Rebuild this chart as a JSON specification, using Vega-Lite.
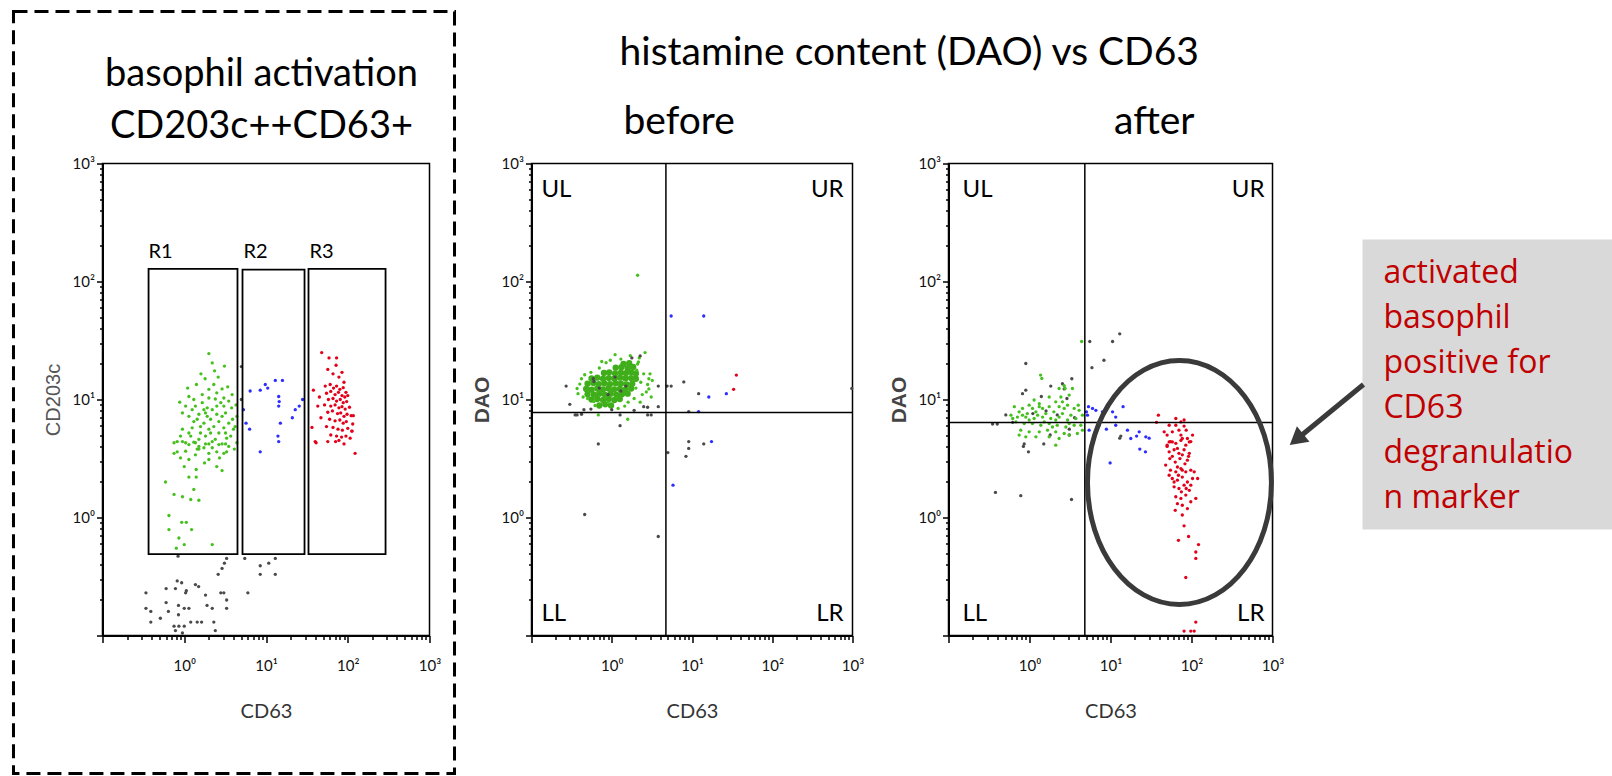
{
  "$schema": "https://vega.github.io/schema/vega-lite/v6.json",
  "background": "white",
  "padding": {"left": 10.5, "top": 8.5, "right": 0, "bottom": 2.5},
  "config": {"view": {"stroke": "#000", "strokeWidth": 1.5}},
  "datasets": {
    "p1": [
      {"cd63":0.34,"cd203c":0.23,"gate":"ungated"},{"cd63":0.34,"cd203c":0.17,"gate":"ungated"},{"cd63":0.39,"cd203c":0.16,"gate":"ungated"},{"cd63":0.39,"cd203c":0.13,"gate":"ungated"},{"cd63":0.51,"cd203c":0.14,"gate":"ungated"},{"cd63":0.6,"cd203c":0.25,"gate":"ungated"},{"cd63":0.6,"cd203c":0.19,"gate":"ungated"},{"cd63":0.64,"cd203c":0.16,"gate":"ungated"},{"cd63":0.78,"cd203c":0.25,"gate":"ungated"},{"cd63":0.82,"cd203c":0.29,"gate":"ungated"},{"cd63":0.85,"cd203c":0.18,"gate":"ungated"},{"cd63":0.85,"cd203c":0.15,"gate":"ungated"},{"cd63":0.93,"cd203c":0.28,"gate":"ungated"},{"cd63":1.0,"cd203c":0.17,"gate":"ungated"},{"cd63":1.04,"cd203c":0.23,"gate":"ungated"},{"cd63":1.06,"cd203c":0.24,"gate":"ungated"},{"cd63":1.14,"cd203c":0.17,"gate":"ungated"},{"cd63":0.75,"cd203c":0.12,"gate":"ungated"},{"cd63":0.86,"cd203c":0.12,"gate":"ungated"},{"cd63":1.0,"cd203c":0.12,"gate":"ungated"},{"cd63":1.2,"cd203c":0.13,"gate":"ungated"},{"cd63":1.37,"cd203c":0.27,"gate":"ungated"},{"cd63":1.44,"cd203c":0.13,"gate":"ungated"},{"cd63":1.63,"cd203c":0.13,"gate":"ungated"},{"cd63":1.82,"cd203c":0.22,"gate":"ungated"},{"cd63":1.9,"cd203c":0.18,"gate":"ungated"},{"cd63":2.2,"cd203c":0.17,"gate":"ungated"},{"cd63":2.3,"cd203c":0.13,"gate":"ungated"},{"cd63":2.4,"cd203c":0.11,"gate":"ungated"},{"cd63":2.8,"cd203c":0.23,"gate":"ungated"},{"cd63":3.05,"cd203c":0.23,"gate":"ungated"},{"cd63":3.3,"cd203c":0.2,"gate":"ungated"},{"cd63":3.3,"cd203c":0.17,"gate":"ungated"},{"cd63":2.6,"cd203c":0.33,"gate":"ungated"},{"cd63":2.9,"cd203c":0.37,"gate":"ungated"},{"cd63":3.1,"cd203c":0.41,"gate":"ungated"},{"cd63":3.3,"cd203c":0.45,"gate":"ungated"},{"cd63":5.5,"cd203c":0.45,"gate":"ungated"},{"cd63":6.0,"cd203c":0.23,"gate":"ungated"},{"cd63":8.5,"cd203c":0.39,"gate":"ungated"},{"cd63":8.5,"cd203c":0.33,"gate":"ungated"},{"cd63":10.8,"cd203c":0.41,"gate":"ungated"},{"cd63":13,"cd203c":0.45,"gate":"ungated"},{"cd63":13,"cd203c":0.33,"gate":"ungated"},{"cd63":1.5,"cd203c":0.26,"gate":"ungated"},{"cd63":0.78,"cd203c":0.11,"gate":"ungated"},{"cd63":0.95,"cd203c":0.105,"gate":"ungated"},{"cd63":0.84,"cd203c":0.47,"gate":"ungated"},{"cd63":5.0,"cd203c":19,"gate":"ungated"},{"cd63":5.0,"cd203c":10,"gate":"ungated"},
      {"cd63":2.0,"cd203c":24.5,"gate":"R1"},{"cd63":3.1,"cd203c":19.2,"gate":"R1"},{"cd63":2.2,"cd203c":20.4,"gate":"R1"},{"cd63":1.41,"cd203c":13.4,"gate":"R1"},{"cd63":2.3,"cd203c":13.4,"gate":"R1"},{"cd63":2.9,"cd203c":12.3,"gate":"R1"},{"cd63":3.85,"cd203c":11,"gate":"R1"},{"cd63":1.14,"cd203c":10.6,"gate":"R1"},{"cd63":2.0,"cd203c":10.3,"gate":"R1"},{"cd63":2.4,"cd203c":10.1,"gate":"R1"},{"cd63":3.05,"cd203c":10.3,"gate":"R1"},{"cd63":1.04,"cd203c":8.8,"gate":"R1"},{"cd63":1.37,"cd203c":8.8,"gate":"R1"},{"cd63":1.66,"cd203c":9.4,"gate":"R1"},{"cd63":1.91,"cd203c":8.5,"gate":"R1"},{"cd63":2.5,"cd203c":8.8,"gate":"R1"},{"cd63":3.05,"cd203c":8.8,"gate":"R1"},{"cd63":3.8,"cd203c":8.5,"gate":"R1"},{"cd63":1.14,"cd203c":7.2,"gate":"R1"},{"cd63":1.51,"cd203c":7.5,"gate":"R1"},{"cd63":1.82,"cd203c":7.7,"gate":"R1"},{"cd63":2.1,"cd203c":6.8,"gate":"R1"},{"cd63":2.9,"cd203c":7.2,"gate":"R1"},{"cd63":3.5,"cd203c":6.3,"gate":"R1"},{"cd63":4.2,"cd203c":5.9,"gate":"R1"},{"cd63":0.95,"cd203c":5.6,"gate":"R1"},{"cd63":1.25,"cd203c":5.75,"gate":"R1"},{"cd63":1.58,"cd203c":5.2,"gate":"R1"},{"cd63":2.0,"cd203c":5.6,"gate":"R1"},{"cd63":2.65,"cd203c":5.2,"gate":"R1"},{"cd63":3.3,"cd203c":4.7,"gate":"R1"},{"cd63":1.04,"cd203c":4.3,"gate":"R1"},{"cd63":1.37,"cd203c":4.3,"gate":"R1"},{"cd63":2.0,"cd203c":4.2,"gate":"R1"},{"cd63":2.9,"cd203c":4.2,"gate":"R1"},{"cd63":4.0,"cd203c":5.6,"gate":"R1"},{"cd63":0.82,"cd203c":4.4,"gate":"R1"},{"cd63":1.74,"cd203c":6.3,"gate":"R1"},{"cd63":2.3,"cd203c":5.9,"gate":"R1"},{"cd63":1.31,"cd203c":6.5,"gate":"R1"},{"cd63":1.51,"cd203c":4.6,"gate":"R1"},{"cd63":2.4,"cd203c":4.6,"gate":"R1"},{"cd63":3.05,"cd203c":5.75,"gate":"R1"},{"cd63":3.7,"cd203c":4.9,"gate":"R1"},{"cd63":1.82,"cd203c":4.9,"gate":"R1"},{"cd63":2.2,"cd203c":3.9,"gate":"R1"},{"cd63":1.2,"cd203c":4.9,"gate":"R1"},{"cd63":2.65,"cd203c":6.5,"gate":"R1"},{"cd63":3.2,"cd203c":7.7,"gate":"R1"},{"cd63":2.0,"cd203c":12.2,"gate":"R1"},{"cd63":1.66,"cd203c":11,"gate":"R1"},{"cd63":1.31,"cd203c":10,"gate":"R1"},{"cd63":2.5,"cd203c":11.4,"gate":"R1"},{"cd63":3.5,"cd203c":9.7,"gate":"R1"},{"cd63":0.95,"cd203c":7.7,"gate":"R1"},{"cd63":0.9,"cd203c":4.9,"gate":"R1"},{"cd63":1.51,"cd203c":3.8,"gate":"R1"},{"cd63":4.4,"cd203c":4.3,"gate":"R1"},{"cd63":4.4,"cd203c":7.2,"gate":"R1"},{"cd63":1.25,"cd203c":8.2,"gate":"R1"},{"cd63":1.44,"cd203c":6.8,"gate":"R1"},{"cd63":1.91,"cd203c":7.2,"gate":"R1"},{"cd63":2.2,"cd203c":8.2,"gate":"R1"},{"cd63":2.8,"cd203c":9.4,"gate":"R1"},{"cd63":1.58,"cd203c":5.9,"gate":"R1"},{"cd63":2.1,"cd203c":5.2,"gate":"R1"},{"cd63":3.2,"cd203c":5.2,"gate":"R1"},{"cd63":2.5,"cd203c":7.5,"gate":"R1"},{"cd63":1.14,"cd203c":5.2,"gate":"R1"},{"cd63":1.74,"cd203c":8.2,"gate":"R1"},{"cd63":0.75,"cd203c":4.3,"gate":"R1"},{"cd63":0.95,"cd203c":4.4,"gate":"R1"},{"cd63":1.14,"cd203c":4.15,"gate":"R1"},{"cd63":1.31,"cd203c":4.35,"gate":"R1"},{"cd63":1.51,"cd203c":4.0,"gate":"R1"},{"cd63":1.82,"cd203c":4.2,"gate":"R1"},{"cd63":2.2,"cd203c":4.4,"gate":"R1"},{"cd63":2.65,"cd203c":4.15,"gate":"R1"},{"cd63":3.2,"cd203c":4.2,"gate":"R1"},{"cd63":3.5,"cd203c":4.0,"gate":"R1"},{"cd63":0.82,"cd203c":3.6,"gate":"R1"},{"cd63":1.04,"cd203c":3.65,"gate":"R1"},{"cd63":1.44,"cd203c":3.8,"gate":"R1"},{"cd63":2.0,"cd203c":3.5,"gate":"R1"},{"cd63":2.5,"cd203c":3.6,"gate":"R1"},{"cd63":3.05,"cd203c":3.5,"gate":"R1"},{"cd63":1.74,"cd203c":3.9,"gate":"R1"},{"cd63":1.37,"cd203c":3.4,"gate":"R1"},{"cd63":0.75,"cd203c":3.5,"gate":"R1"},{"cd63":1.0,"cd203c":2.7,"gate":"R1"},{"cd63":1.77,"cd203c":2.9,"gate":"R1"},{"cd63":1.4,"cd203c":2.55,"gate":"R1"},{"cd63":2.5,"cd203c":2.7,"gate":"R1"},{"cd63":2.9,"cd203c":2.5,"gate":"R1"},{"cd63":1.14,"cd203c":2.2,"gate":"R1"},{"cd63":1.4,"cd203c":2.2,"gate":"R1"},{"cd63":1.31,"cd203c":1.73,"gate":"R1"},{"cd63":0.59,"cd203c":2.0,"gate":"R1"},{"cd63":0.75,"cd203c":1.57,"gate":"R1"},{"cd63":0.95,"cd203c":1.5,"gate":"R1"},{"cd63":1.2,"cd203c":1.42,"gate":"R1"},{"cd63":1.51,"cd203c":1.4,"gate":"R1"},{"cd63":0.65,"cd203c":1.04,"gate":"R1"},{"cd63":0.65,"cd203c":0.79,"gate":"R1"},{"cd63":0.93,"cd203c":0.91,"gate":"R1"},{"cd63":1.06,"cd203c":0.91,"gate":"R1"},{"cd63":1.23,"cd203c":0.79,"gate":"R1"},{"cd63":0.86,"cd203c":0.67,"gate":"R1"},{"cd63":1.0,"cd203c":0.59,"gate":"R1"},{"cd63":0.8,"cd203c":0.55,"gate":"R1"},{"cd63":2.2,"cd203c":0.59,"gate":"R1"},{"cd63":2.0,"cd203c":3.1,"gate":"R1"},{"cd63":1.14,"cd203c":3.1,"gate":"R1"},{"cd63":0.9,"cd203c":3.2,"gate":"R1"},{"cd63":3.9,"cd203c":6.8,"gate":"R1"},{"cd63":4.3,"cd203c":9.0,"gate":"R1"},{"cd63":3.4,"cd203c":12.8,"gate":"R1"},{"cd63":2.6,"cd203c":15.5,"gate":"R1"},{"cd63":1.8,"cd203c":15,"gate":"R1"},{"cd63":1.1,"cd203c":12.5,"gate":"R1"},{"cd63":0.88,"cd203c":9.5,"gate":"R1"},{"cd63":2.7,"cd203c":3.2,"gate":"R1"},{"cd63":3.3,"cd203c":3.6,"gate":"R1"},{"cd63":4.1,"cd203c":3.8,"gate":"R1"},{"cd63":1.6,"cd203c":16.5,"gate":"R1"},{"cd63":2.35,"cd203c":17.5,"gate":"R1"},
      {"cd63":6.4,"cd203c":11.8,"gate":"R2"},{"cd63":8.5,"cd203c":12,"gate":"R2"},{"cd63":9.8,"cd203c":13.4,"gate":"R2"},{"cd63":13,"cd203c":14.5,"gate":"R2"},{"cd63":15.9,"cd203c":14.5,"gate":"R2"},{"cd63":14.3,"cd203c":10.6,"gate":"R2"},{"cd63":14.3,"cd203c":8.8,"gate":"R2"},{"cd63":15,"cd203c":6.3,"gate":"R2"},{"cd63":14,"cd203c":4.9,"gate":"R2"},{"cd63":5.7,"cd203c":6.3,"gate":"R2"},{"cd63":6.3,"cd203c":5.6,"gate":"R2"},{"cd63":22.8,"cd203c":8.2,"gate":"R2"},{"cd63":25.5,"cd203c":8.8,"gate":"R2"},{"cd63":28,"cd203c":10,"gate":"R2"},{"cd63":21,"cd203c":7.0,"gate":"R2"},{"cd63":5.3,"cd203c":8.2,"gate":"R2"},{"cd63":8.5,"cd203c":3.6,"gate":"R2"},{"cd63":14.3,"cd203c":4.4,"gate":"R2"},{"cd63":10.5,"cd203c":12.5,"gate":"R2"},{"cd63":14.5,"cd203c":9.6,"gate":"R2"},
      {"cd63":48,"cd203c":25,"gate":"R3"},{"cd63":59,"cd203c":22.5,"gate":"R3"},{"cd63":73,"cd203c":22.5,"gate":"R3"},{"cd63":72,"cd203c":19.5,"gate":"R3"},{"cd63":57,"cd203c":18,"gate":"R3"},{"cd63":66,"cd203c":16.5,"gate":"R3"},{"cd63":78,"cd203c":15.5,"gate":"R3"},{"cd63":85,"cd203c":17,"gate":"R3"},{"cd63":90,"cd203c":14,"gate":"R3"},{"cd63":53,"cd203c":13,"gate":"R3"},{"cd63":61,"cd203c":13.4,"gate":"R3"},{"cd63":67,"cd203c":12.5,"gate":"R3"},{"cd63":73,"cd203c":13,"gate":"R3"},{"cd63":80,"cd203c":12.2,"gate":"R3"},{"cd63":88,"cd203c":12.6,"gate":"R3"},{"cd63":95,"cd203c":11.5,"gate":"R3"},{"cd63":55,"cd203c":11.3,"gate":"R3"},{"cd63":62,"cd203c":11.7,"gate":"R3"},{"cd63":70,"cd203c":11,"gate":"R3"},{"cd63":77,"cd203c":11.5,"gate":"R3"},{"cd63":85,"cd203c":10.8,"gate":"R3"},{"cd63":92,"cd203c":10.5,"gate":"R3"},{"cd63":100,"cd203c":10.8,"gate":"R3"},{"cd63":58,"cd203c":10,"gate":"R3"},{"cd63":66,"cd203c":10.2,"gate":"R3"},{"cd63":73,"cd203c":9.7,"gate":"R3"},{"cd63":81,"cd203c":10,"gate":"R3"},{"cd63":88,"cd203c":9.4,"gate":"R3"},{"cd63":97,"cd203c":9.6,"gate":"R3"},{"cd63":52,"cd203c":9,"gate":"R3"},{"cd63":62,"cd203c":8.8,"gate":"R3"},{"cd63":70,"cd203c":9,"gate":"R3"},{"cd63":78,"cd203c":8.5,"gate":"R3"},{"cd63":85,"cd203c":8.7,"gate":"R3"},{"cd63":93,"cd203c":8.3,"gate":"R3"},{"cd63":105,"cd203c":8.6,"gate":"R3"},{"cd63":57,"cd203c":7.8,"gate":"R3"},{"cd63":65,"cd203c":8,"gate":"R3"},{"cd63":75,"cd203c":7.6,"gate":"R3"},{"cd63":82,"cd203c":7.7,"gate":"R3"},{"cd63":90,"cd203c":7.2,"gate":"R3"},{"cd63":98,"cd203c":7.5,"gate":"R3"},{"cd63":110,"cd203c":7.3,"gate":"R3"},{"cd63":60,"cd203c":6.8,"gate":"R3"},{"cd63":70,"cd203c":6.6,"gate":"R3"},{"cd63":80,"cd203c":6.7,"gate":"R3"},{"cd63":88,"cd203c":6.3,"gate":"R3"},{"cd63":96,"cd203c":6.5,"gate":"R3"},{"cd63":115,"cd203c":6.2,"gate":"R3"},{"cd63":55,"cd203c":5.9,"gate":"R3"},{"cd63":66,"cd203c":5.8,"gate":"R3"},{"cd63":76,"cd203c":5.6,"gate":"R3"},{"cd63":86,"cd203c":5.5,"gate":"R3"},{"cd63":100,"cd203c":5.7,"gate":"R3"},{"cd63":113,"cd203c":5.4,"gate":"R3"},{"cd63":62,"cd203c":5.0,"gate":"R3"},{"cd63":73,"cd203c":4.9,"gate":"R3"},{"cd63":84,"cd203c":4.8,"gate":"R3"},{"cd63":95,"cd203c":4.9,"gate":"R3"},{"cd63":107,"cd203c":4.7,"gate":"R3"},{"cd63":90,"cd203c":4.2,"gate":"R3"},{"cd63":78,"cd203c":4.5,"gate":"R3"},{"cd63":38,"cd203c":12,"gate":"R3"},{"cd63":43,"cd203c":8.8,"gate":"R3"},{"cd63":36.5,"cd203c":5.8,"gate":"R3"},{"cd63":41,"cd203c":4.3,"gate":"R3"},{"cd63":40,"cd203c":4.4,"gate":"R3"},{"cd63":57,"cd203c":4.4,"gate":"R3"},{"cd63":71,"cd203c":4.4,"gate":"R3"},{"cd63":123,"cd203c":3.5,"gate":"R3"},{"cd63":117,"cd203c":7.3,"gate":"R3"},{"cd63":112,"cd203c":5.4,"gate":"R3"},{"cd63":45,"cd203c":10.5,"gate":"R3"},{"cd63":47,"cd203c":7,"gate":"R3"}
    ],
    "p2core": [
      {"cd63":1.4,"dao":20},{"cd63":1.65,"dao":20.3},
      {"cd63":1.12,"dao":18.6},{"cd63":1.32,"dao":18.8},{"cd63":1.58,"dao":18.4},{"cd63":1.85,"dao":18.9},
      {"cd63":0.8,"dao":16.8},{"cd63":0.93,"dao":17},{"cd63":1.1,"dao":16.6},{"cd63":1.3,"dao":16.9},{"cd63":1.5,"dao":16.7},{"cd63":1.75,"dao":17},{"cd63":2.0,"dao":16.6},
      {"cd63":0.56,"dao":15.1},{"cd63":0.66,"dao":15.3},{"cd63":0.78,"dao":15},{"cd63":0.92,"dao":15.2},{"cd63":1.08,"dao":15},{"cd63":1.27,"dao":15.3},{"cd63":1.48,"dao":15.1},{"cd63":1.74,"dao":15.2},{"cd63":2.0,"dao":15},
      {"cd63":0.5,"dao":13.6},{"cd63":0.59,"dao":13.8},{"cd63":0.69,"dao":13.5},{"cd63":0.81,"dao":13.7},{"cd63":0.95,"dao":13.5},{"cd63":1.12,"dao":13.7},{"cd63":1.3,"dao":13.6},{"cd63":1.53,"dao":13.4},{"cd63":1.8,"dao":13.6},
      {"cd63":0.48,"dao":12.3},{"cd63":0.56,"dao":12.1},{"cd63":0.66,"dao":12.4},{"cd63":0.78,"dao":12.2},{"cd63":0.91,"dao":12.4},{"cd63":1.07,"dao":12.2},{"cd63":1.26,"dao":12.3},{"cd63":1.48,"dao":12.1},{"cd63":1.75,"dao":12.4},
      {"cd63":0.5,"dao":11.1},{"cd63":0.6,"dao":11},{"cd63":0.7,"dao":11.2},{"cd63":0.82,"dao":11},{"cd63":0.97,"dao":11.2},{"cd63":1.14,"dao":11},{"cd63":1.34,"dao":11.1},{"cd63":1.58,"dao":11.2},
      {"cd63":0.56,"dao":10},{"cd63":0.66,"dao":10.1},{"cd63":0.78,"dao":9.9},{"cd63":0.92,"dao":10.1},{"cd63":1.08,"dao":9.9},{"cd63":1.26,"dao":10.1},
      {"cd63":0.7,"dao":8.9},{"cd63":0.83,"dao":9.1},{"cd63":0.98,"dao":8.9}
    ],
    "p2": [
      {"cd63":0.42,"dao":15,"gate":"R1"},{"cd63":0.37,"dao":12.4,"gate":"R1"},{"cd63":0.96,"dao":21.5,"gate":"R1"},{"cd63":2.6,"dao":25,"gate":"R1"},{"cd63":2.15,"dao":20.8,"gate":"R1"},{"cd63":2.05,"dao":17.7,"gate":"R1"},{"cd63":2.9,"dao":15,"gate":"R1"},{"cd63":3.1,"dao":10.5,"gate":"R1"},{"cd63":2.7,"dao":11.6,"gate":"R1"},{"cd63":2.26,"dao":9.5,"gate":"R1"},{"cd63":1.6,"dao":9.5,"gate":"R1"},{"cd63":1.2,"dao":8.4,"gate":"R1"},{"cd63":0.68,"dao":7.4,"gate":"R1"},{"cd63":1.58,"dao":6.8,"gate":"R1"},{"cd63":2.1,"dao":20,"gate":"R1"},{"cd63":2.5,"dao":16.5,"gate":"R1"},{"cd63":0.44,"dao":10.5,"gate":"R1"},{"cd63":0.5,"dao":10.2,"gate":"R1"},{"cd63":0.62,"dao":8.9,"gate":"R1"},{"cd63":2.1,"dao":113,"gate":"R1"},{"cd63":0.55,"dao":17,"gate":"R1"},{"cd63":0.7,"dao":18.5,"gate":"R1"},{"cd63":0.85,"dao":20.5,"gate":"R1"},{"cd63":1.3,"dao":22,"gate":"R1"},{"cd63":1.7,"dao":23.5,"gate":"R1"},{"cd63":2.3,"dao":14,"gate":"R1"},{"cd63":2.0,"dao":12.5,"gate":"R1"},{"cd63":2.4,"dao":11,"gate":"R1"},{"cd63":0.4,"dao":13.5,"gate":"R1"},{"cd63":0.46,"dao":16.2,"gate":"R1"},{"cd63":0.9,"dao":9.4,"gate":"R1"},{"cd63":1.9,"dao":10.2,"gate":"R1"},{"cd63":2.8,"dao":13.4,"gate":"R1"},{"cd63":3.2,"dao":14.5,"gate":"R1"},{"cd63":0.75,"dao":21,"gate":"R1"},{"cd63":1.1,"dao":24,"gate":"R1"},{"cd63":0.38,"dao":11.2,"gate":"R1"},{"cd63":2.9,"dao":12.3,"gate":"R1"},{"cd63":1.45,"dao":8.8,"gate":"R1"},{"cd63":3.0,"dao":16.5,"gate":"R1"},{"cd63":0.6,"dao":9.6,"gate":"R1"},{"cd63":2.2,"dao":22.5,"gate":"R1"},
      {"cd63":0.27,"dao":13,"gate":"ungated"},{"cd63":0.3,"dao":9.1,"gate":"ungated"},{"cd63":0.35,"dao":7.4,"gate":"ungated"},{"cd63":0.37,"dao":7.4,"gate":"ungated"},{"cd63":0.42,"dao":7.5,"gate":"ungated"},{"cd63":0.59,"dao":15,"gate":"ungated"},{"cd63":1.78,"dao":22.5,"gate":"ungated"},{"cd63":2.26,"dao":23.4,"gate":"ungated"},{"cd63":3.8,"dao":13,"gate":"ungated"},{"cd63":4.9,"dao":13,"gate":"ungated"},{"cd63":5.5,"dao":13,"gate":"ungated"},{"cd63":7.9,"dao":14.1,"gate":"ungated"},{"cd63":12.1,"dao":11.2,"gate":"ungated"},{"cd63":9.1,"dao":7.9,"gate":"ungated"},{"cd63":3.8,"dao":8.7,"gate":"ungated"},{"cd63":2.5,"dao":8.7,"gate":"ungated"},{"cd63":2.8,"dao":8.6,"gate":"ungated"},{"cd63":1.27,"dao":7.4,"gate":"ungated"},{"cd63":1.27,"dao":6.0,"gate":"ungated"},{"cd63":0.68,"dao":4.2,"gate":"ungated"},{"cd63":2.8,"dao":7.4,"gate":"ungated"},{"cd63":3.1,"dao":7.4,"gate":"ungated"},{"cd63":9.1,"dao":4.4,"gate":"ungated"},{"cd63":9.1,"dao":3.85,"gate":"ungated"},{"cd63":8.4,"dao":3.3,"gate":"ungated"},{"cd63":14,"dao":4.2,"gate":"ungated"},{"cd63":5.0,"dao":3.55,"gate":"ungated"},{"cd63":0.46,"dao":1.06,"gate":"ungated"},{"cd63":3.8,"dao":0.69,"gate":"ungated"},{"cd63":980,"dao":12.4,"gate":"ungated"},{"cd63":0.7,"dao":12.5,"gate":"ungated"},{"cd63":1.1,"dao":15.5,"gate":"ungated"},{"cd63":1.5,"dao":13,"gate":"ungated"},{"cd63":0.9,"dao":11,"gate":"ungated"},{"cd63":1.3,"dao":11.8,"gate":"ungated"},{"cd63":0.6,"dao":14.2,"gate":"ungated"},{"cd63":0.45,"dao":8.2,"gate":"ungated"},{"cd63":1.9,"dao":8.1,"gate":"ungated"},{"cd63":0.55,"dao":8.3,"gate":"ungated"},{"cd63":1.0,"dao":8.2,"gate":"ungated"},
      {"cd63":5.5,"dao":51,"gate":"R2"},{"cd63":14,"dao":51,"gate":"R2"},{"cd63":16.2,"dao":10.5,"gate":"R2"},{"cd63":26.8,"dao":11.2,"gate":"R2"},{"cd63":12.1,"dao":7.9,"gate":"R2"},{"cd63":17.5,"dao":4.4,"gate":"R2"},{"cd63":5.8,"dao":1.88,"gate":"R2"},
      {"cd63":35.7,"dao":16.1,"gate":"R3"},{"cd63":33,"dao":12.2,"gate":"R3"}
    ],
    "p3": [
      {"cd63":0.9,"dao":20.2,"gate":"ungated"},{"cd63":0.9,"dao":12,"gate":"ungated"},{"cd63":1.83,"dao":13,"gate":"ungated"},{"cd63":2.68,"dao":12.3,"gate":"ungated"},{"cd63":3.33,"dao":15,"gate":"ungated"},{"cd63":5.55,"dao":31,"gate":"ungated"},{"cd63":10.6,"dao":31,"gate":"ungated"},{"cd63":13,"dao":36,"gate":"ungated"},{"cd63":8.3,"dao":21.5,"gate":"ungated"},{"cd63":5.9,"dao":18.6,"gate":"ungated"},{"cd63":0.51,"dao":7.4,"gate":"ungated"},{"cd63":0.35,"dao":6.2,"gate":"ungated"},{"cd63":0.4,"dao":6.2,"gate":"ungated"},{"cd63":3.1,"dao":5.0,"gate":"ungated"},{"cd63":13.4,"dao":4.9,"gate":"ungated"},{"cd63":0.86,"dao":4.2,"gate":"ungated"},{"cd63":1.5,"dao":4.2,"gate":"ungated"},{"cd63":1.8,"dao":5.0,"gate":"ungated"},{"cd63":3.1,"dao":5.6,"gate":"ungated"},{"cd63":2.55,"dao":13.6,"gate":"ungated"},{"cd63":0.82,"dao":11.2,"gate":"ungated"},{"cd63":0.84,"dao":4.0,"gate":"ungated"},{"cd63":0.97,"dao":3.6,"gate":"ungated"},{"cd63":0.38,"dao":1.63,"gate":"ungated"},{"cd63":0.78,"dao":1.53,"gate":"ungated"},{"cd63":3.3,"dao":1.42,"gate":"ungated"},{"cd63":13,"dao":4.7,"gate":"ungated"},{"cd63":0.62,"dao":6.4,"gate":"ungated"},{"cd63":1.6,"dao":8.0,"gate":"ungated"},{"cd63":2.2,"dao":7.4,"gate":"ungated"},{"cd63":1.1,"dao":7.6,"gate":"ungated"},{"cd63":3.6,"dao":7.0,"gate":"ungated"},{"cd63":1.4,"dao":10.6,"gate":"ungated"},{"cd63":2.9,"dao":10.2,"gate":"ungated"},
      {"cd63":1.37,"dao":16.1,"gate":"R1"},{"cd63":1.42,"dao":15.1,"gate":"R1"},{"cd63":2.68,"dao":13.1,"gate":"R1"},{"cd63":2.75,"dao":12.4,"gate":"R1"},{"cd63":3.39,"dao":12.4,"gate":"R1"},{"cd63":3.09,"dao":10.9,"gate":"R1"},{"cd63":1.75,"dao":10.5,"gate":"R1"},{"cd63":2.11,"dao":9.55,"gate":"R1"},{"cd63":2.55,"dao":9.55,"gate":"R1"},{"cd63":1.32,"dao":9.2,"gate":"R1"},{"cd63":0.99,"dao":8.95,"gate":"R1"},{"cd63":0.65,"dao":8.7,"gate":"R1"},{"cd63":0.82,"dao":8.4,"gate":"R1"},{"cd63":1.09,"dao":8.4,"gate":"R1"},{"cd63":1.45,"dao":8.4,"gate":"R1"},{"cd63":1.75,"dao":8.7,"gate":"R1"},{"cd63":2.32,"dao":8.7,"gate":"R1"},{"cd63":2.95,"dao":8.95,"gate":"R1"},{"cd63":3.56,"dao":8.4,"gate":"R1"},{"cd63":4.1,"dao":8.1,"gate":"R1"},{"cd63":0.745,"dao":7.86,"gate":"R1"},{"cd63":0.94,"dao":7.6,"gate":"R1"},{"cd63":1.2,"dao":7.86,"gate":"R1"},{"cd63":1.59,"dao":7.6,"gate":"R1"},{"cd63":2.0,"dao":7.86,"gate":"R1"},{"cd63":2.55,"dao":7.6,"gate":"R1"},{"cd63":3.24,"dao":7.36,"gate":"R1"},{"cd63":0.59,"dao":7.36,"gate":"R1"},{"cd63":0.71,"dao":7.1,"gate":"R1"},{"cd63":0.9,"dao":7.1,"gate":"R1"},{"cd63":1.14,"dao":6.9,"gate":"R1"},{"cd63":1.45,"dao":7.1,"gate":"R1"},{"cd63":1.83,"dao":6.9,"gate":"R1"},{"cd63":2.32,"dao":7.1,"gate":"R1"},{"cd63":2.95,"dao":6.7,"gate":"R1"},{"cd63":3.73,"dao":6.9,"gate":"R1"},{"cd63":4.5,"dao":7.36,"gate":"R1"},{"cd63":4.3,"dao":6.05,"gate":"R1"},{"cd63":0.68,"dao":6.46,"gate":"R1"},{"cd63":0.86,"dao":6.25,"gate":"R1"},{"cd63":1.09,"dao":6.25,"gate":"R1"},{"cd63":1.38,"dao":6.05,"gate":"R1"},{"cd63":1.75,"dao":6.25,"gate":"R1"},{"cd63":2.2,"dao":6.05,"gate":"R1"},{"cd63":2.81,"dao":5.85,"gate":"R1"},{"cd63":3.56,"dao":6.05,"gate":"R1"},{"cd63":0.78,"dao":5.5,"gate":"R1"},{"cd63":0.99,"dao":5.32,"gate":"R1"},{"cd63":1.32,"dao":5.32,"gate":"R1"},{"cd63":1.67,"dao":5.5,"gate":"R1"},{"cd63":2.11,"dao":5.32,"gate":"R1"},{"cd63":2.68,"dao":5.15,"gate":"R1"},{"cd63":0.745,"dao":4.99,"gate":"R1"},{"cd63":0.9,"dao":4.83,"gate":"R1"},{"cd63":1.2,"dao":4.83,"gate":"R1"},{"cd63":1.75,"dao":4.83,"gate":"R1"},{"cd63":2.32,"dao":4.67,"gate":"R1"},{"cd63":3.09,"dao":4.99,"gate":"R1"},{"cd63":3.9,"dao":5.15,"gate":"R1"},{"cd63":4.5,"dao":5.5,"gate":"R1"},{"cd63":2.11,"dao":4.1,"gate":"R1"},{"cd63":4.4,"dao":31,"gate":"R1"},{"cd63":1.26,"dao":7.36,"gate":"R1"},{"cd63":2.11,"dao":6.7,"gate":"R1"},{"cd63":2.68,"dao":8.4,"gate":"R1"},{"cd63":1.52,"dao":6.46,"gate":"R1"},{"cd63":1.92,"dao":5.85,"gate":"R1"},{"cd63":0.99,"dao":6.7,"gate":"R1"},{"cd63":3.09,"dao":6.25,"gate":"R1"},{"cd63":1.32,"dao":8.7,"gate":"R1"},{"cd63":2.44,"dao":10.5,"gate":"R1"},{"cd63":1.14,"dao":9.9,"gate":"R1"},{"cd63":0.62,"dao":6.9,"gate":"R1"},{"cd63":0.82,"dao":7.36,"gate":"R1"},{"cd63":4.0,"dao":8.95,"gate":"R1"},{"cd63":2.32,"dao":12.4,"gate":"R1"},
      {"cd63":5.35,"dao":8.7,"gate":"R2"},{"cd63":6.6,"dao":8.1,"gate":"R2"},{"cd63":7.95,"dao":7.86,"gate":"R2"},{"cd63":10.6,"dao":7.86,"gate":"R2"},{"cd63":14.3,"dao":8.7,"gate":"R2"},{"cd63":5.2,"dao":7.36,"gate":"R2"},{"cd63":7.25,"dao":6.05,"gate":"R2"},{"cd63":8.9,"dao":5.6,"gate":"R2"},{"cd63":11.6,"dao":6.05,"gate":"R2"},{"cd63":16.2,"dao":5.5,"gate":"R2"},{"cd63":22.6,"dao":5.32,"gate":"R2"},{"cd63":27.3,"dao":4.83,"gate":"R2"},{"cd63":21,"dao":4.9,"gate":"R2"},{"cd63":17.8,"dao":4.67,"gate":"R2"},{"cd63":5.45,"dao":5.5,"gate":"R2"},{"cd63":9.9,"dao":2.9,"gate":"R2"},{"cd63":23,"dao":3.8,"gate":"R2"},{"cd63":27,"dao":3.6,"gate":"R2"},{"cd63":30,"dao":4.7,"gate":"R2"},{"cd63":6.0,"dao":8.4,"gate":"R2"},{"cd63":11.6,"dao":7.1,"gate":"R2"},{"cd63":5.05,"dao":7.86,"gate":"R2"},
      {"cd63":39,"dao":7.36,"gate":"R3"},{"cd63":37,"dao":6.4,"gate":"R3"},{"cd63":64,"dao":6.05,"gate":"R3"},{"cd63":81,"dao":5.95,"gate":"R3"},{"cd63":58,"dao":5.32,"gate":"R3"},{"cd63":50,"dao":4.99,"gate":"R3"},{"cd63":74,"dao":4.99,"gate":"R3"},{"cd63":89,"dao":4.67,"gate":"R3"},{"cd63":53,"dao":4.37,"gate":"R3"},{"cd63":46,"dao":5.32,"gate":"R3"},{"cd63":70,"dao":5.5,"gate":"R3"},{"cd63":81,"dao":6.7,"gate":"R3"},{"cd63":64,"dao":6.9,"gate":"R3"},{"cd63":77,"dao":4.67,"gate":"R3"},{"cd63":58,"dao":4.37,"gate":"R3"},{"cd63":94,"dao":4.37,"gate":"R3"},{"cd63":50,"dao":4.0,"gate":"R3"},{"cd63":103,"dao":4.99,"gate":"R3"},{"cd63":53,"dao":6.05,"gate":"R3"},{"cd63":74,"dao":6.46,"gate":"R3"},{"cd63":86,"dao":5.5,"gate":"R3"},{"cd63":50,"dao":4.1,"gate":"R3"},{"cd63":55,"dao":4.4,"gate":"R3"},{"cd63":64,"dao":4.25,"gate":"R3"},{"cd63":74,"dao":4.5,"gate":"R3"},{"cd63":85,"dao":4.1,"gate":"R3"},{"cd63":98,"dao":4.4,"gate":"R3"},{"cd63":53,"dao":3.6,"gate":"R3"},{"cd63":61,"dao":3.75,"gate":"R3"},{"cd63":70,"dao":3.5,"gate":"R3"},{"cd63":81,"dao":3.75,"gate":"R3"},{"cd63":94,"dao":3.5,"gate":"R3"},{"cd63":48,"dao":2.78,"gate":"R3"},{"cd63":54,"dao":3.16,"gate":"R3"},{"cd63":63,"dao":2.95,"gate":"R3"},{"cd63":72,"dao":3.16,"gate":"R3"},{"cd63":83,"dao":2.85,"gate":"R3"},{"cd63":92,"dao":3.3,"gate":"R3"},{"cd63":55,"dao":2.52,"gate":"R3"},{"cd63":64,"dao":2.44,"gate":"R3"},{"cd63":74,"dao":2.6,"gate":"R3"},{"cd63":85,"dao":2.44,"gate":"R3"},{"cd63":98,"dao":2.52,"gate":"R3"},{"cd63":58,"dao":2.14,"gate":"R3"},{"cd63":67,"dao":2.07,"gate":"R3"},{"cd63":77,"dao":2.2,"gate":"R3"},{"cd63":89,"dao":2.0,"gate":"R3"},{"cd63":103,"dao":2.14,"gate":"R3"},{"cd63":119,"dao":2.14,"gate":"R3"},{"cd63":61,"dao":1.82,"gate":"R3"},{"cd63":70,"dao":1.76,"gate":"R3"},{"cd63":81,"dao":1.88,"gate":"R3"},{"cd63":94,"dao":1.7,"gate":"R3"},{"cd63":113,"dao":1.45,"gate":"R3"},{"cd63":64,"dao":1.5,"gate":"R3"},{"cd63":74,"dao":1.45,"gate":"R3"},{"cd63":85,"dao":1.55,"gate":"R3"},{"cd63":98,"dao":1.36,"gate":"R3"},{"cd63":63,"dao":1.15,"gate":"R3"},{"cd63":77,"dao":1.27,"gate":"R3"},{"cd63":89,"dao":1.19,"gate":"R3"},{"cd63":77,"dao":1.05,"gate":"R3"},{"cd63":81,"dao":0.85,"gate":"R3"},{"cd63":69,"dao":0.64,"gate":"R3"},{"cd63":92,"dao":0.69,"gate":"R3"},{"cd63":122,"dao":0.59,"gate":"R3"},{"cd63":113,"dao":0.51,"gate":"R3"},{"cd63":113,"dao":0.45,"gate":"R3"},{"cd63":85,"dao":0.31,"gate":"R3"},{"cd63":113,"dao":0.13,"gate":"R3"},{"cd63":81,"dao":0.109,"gate":"R3"},{"cd63":98,"dao":0.109,"gate":"R3"},{"cd63":108,"dao":0.109,"gate":"R3"},{"cd63":67,"dao":3.85,"gate":"R3"},{"cd63":77,"dao":3.4,"gate":"R3"},{"cd63":58,"dao":3.3,"gate":"R3"},{"cd63":89,"dao":3.06,"gate":"R3"},{"cd63":67,"dao":2.68,"gate":"R3"},{"cd63":77,"dao":2.52,"gate":"R3"},{"cd63":69,"dao":2.28,"gate":"R3"},{"cd63":61,"dao":2.0,"gate":"R3"},{"cd63":75,"dao":1.65,"gate":"R3"},{"cd63":86,"dao":1.76,"gate":"R3"},{"cd63":67,"dao":1.31,"gate":"R3"},{"cd63":53,"dao":2.28,"gate":"R3"},{"cd63":98,"dao":1.88,"gate":"R3"},{"cd63":108,"dao":2.44,"gate":"R3"}
    ]
  },
  "bounds": "flush",
  "spacing": 102,
  "hconcat": [
    {
      "width": 327,
      "height": 472,
      "encoding": {
        "x": {"field": "cd63", "type": "quantitative", "title": "CD63",
          "scale": {"type": "log", "domain": [0.1, 1000]},
          "axis": {"values": [0.1,0.2,0.3,0.4,0.5,0.6,0.7,0.8,0.9,1,2,3,4,5,6,7,8,9,10,20,30,40,50,60,70,80,90,100,200,300,400,500,600,700,800,900,1000],
            "labelExpr": "datum.value == 1 ? '10⁰' : datum.value == 10 ? '10¹' : datum.value == 100 ? '10²' : datum.value == 1000 ? '10³' : ''",
            "tickSize": {"condition": {"test": "datum.value == 0.1 || datum.value == 1 || datum.value == 10 || datum.value == 100 || datum.value == 1000", "value": 7}, "value": 4},
            "grid": false, "domainColor": "#000", "domainWidth": 2, "tickColor": "#000", "tickWidth": 1.5,
            "labelFont": "Lato", "labelFontSize": 15, "labelColor": "#111", "labelPadding": 16,
            "labelOverlap": false, "labelFlush": false, "labelBound": false,
            "titleFont": "Lato", "titleFontSize": 20, "titleFontWeight": "normal", "titleColor": "#333", "titlePadding": 28}},
        "y": {"field": "cd203c", "type": "quantitative", "title": "CD203c",
          "scale": {"type": "log", "domain": [0.1, 1000]},
          "axis": {"values": [0.1,0.2,0.3,0.4,0.5,0.6,0.7,0.8,0.9,1,2,3,4,5,6,7,8,9,10,20,30,40,50,60,70,80,90,100,200,300,400,500,600,700,800,900,1000],
            "labelExpr": "datum.value == 1 ? '10⁰' : datum.value == 10 ? '10¹' : datum.value == 100 ? '10²' : datum.value == 1000 ? '10³' : ''",
            "tickSize": {"condition": {"test": "datum.value == 0.1 || datum.value == 1 || datum.value == 10 || datum.value == 100 || datum.value == 1000", "value": 6}, "value": 3},
            "grid": false, "domainColor": "#000", "domainWidth": 2, "tickColor": "#000", "tickWidth": 1.5,
            "labelFont": "Lato", "labelFontSize": 15, "labelColor": "#111", "labelPadding": 2,
            "labelOverlap": false, "labelFlush": false, "labelBound": false,
            "titleFont": "Liberation Sans", "titleFontSize": 20, "titleFontWeight": "normal", "titleColor": "#555", "titlePadding": 9}}
      },
      "layer": [
        {"data": {"name": "p1"}, "mark": {"type": "circle", "size": 11, "opacity": 1},
          "encoding": {"color": {"field": "gate", "type": "nominal", "legend": null,
            "scale": {"domain": ["R1", "R2", "R3", "ungated"], "range": ["#46c01e", "#2d2dff", "#e2001a", "#4a4a4a"]}}}},
        {"data": {"values": [
            {"gate": "R1", "cd63": 0.366, "cd63_end": 4.48, "cd203c": 0.49, "cd203c_end": 128},
            {"gate": "R2", "cd63": 5.16, "cd63_end": 29.6, "cd203c": 0.49, "cd203c_end": 126},
            {"gate": "R3", "cd63": 33.1, "cd63_end": 290, "cd203c": 0.49, "cd203c_end": 128}]},
          "mark": {"type": "rect", "filled": false, "color": "#000", "strokeWidth": 1.8},
          "encoding": {"x2": {"field": "cd63_end"}, "y2": {"field": "cd203c_end"}}},
        {"data": {"values": [
            {"label": "R1", "cd63": 0.366, "cd203c": 157},
            {"label": "R2", "cd63": 5.3, "cd203c": 157},
            {"label": "R3", "cd63": 34, "cd203c": 157}]},
          "mark": {"type": "text", "font": "Lato", "fontSize": 20, "align": "left", "baseline": "alphabetic", "color": "#000"},
          "encoding": {"text": {"field": "label"}}},
        {"data": {"values": [
            {"label": "basophil activation", "cd63": 8.8, "cd203c": 4580},
            {"label": "CD203c++CD63+", "cd63": 8.8, "cd203c": 1630}]},
          "mark": {"type": "text", "font": "Lato", "fontSize": 38, "align": "center", "baseline": "alphabetic", "color": "#000"},
          "encoding": {"text": {"field": "label"}}},
        {"data": {"values": [{"cd63": 0.00815, "cd63_end": 2023, "cd203c": 19410, "cd203c_end": 0.00678}]},
          "mark": {"type": "rect", "filled": false, "color": "#000", "strokeWidth": 3, "strokeDash": [14, 7]},
          "encoding": {"x2": {"field": "cd63_end"}, "y2": {"field": "cd203c_end"}}}
      ]
    },
    {
      "bounds": "flush",
      "spacing": 96,
      "hconcat": [
        {
          "width": 321,
          "height": 472,
          "encoding": {
            "x": {"field": "cd63", "type": "quantitative", "title": "CD63",
              "scale": {"type": "log", "domain": [0.1, 1000]},
              "axis": {"values": [0.1,0.2,0.3,0.4,0.5,0.6,0.7,0.8,0.9,1,2,3,4,5,6,7,8,9,10,20,30,40,50,60,70,80,90,100,200,300,400,500,600,700,800,900,1000],
                "labelExpr": "datum.value == 1 ? '10⁰' : datum.value == 10 ? '10¹' : datum.value == 100 ? '10²' : datum.value == 1000 ? '10³' : ''",
                "tickSize": {"condition": {"test": "datum.value == 0.1 || datum.value == 1 || datum.value == 10 || datum.value == 100 || datum.value == 1000", "value": 7}, "value": 4},
                "grid": false, "domainColor": "#000", "domainWidth": 2, "tickColor": "#000", "tickWidth": 1.5,
                "labelFont": "Lato", "labelFontSize": 15, "labelColor": "#111", "labelPadding": 16,
                "labelOverlap": false, "labelFlush": false, "labelBound": false,
                "titleFont": "Lato", "titleFontSize": 20, "titleFontWeight": "normal", "titleColor": "#333", "titlePadding": 28}},
            "y": {"field": "dao", "type": "quantitative", "title": "DAO",
              "scale": {"type": "log", "domain": [0.1, 1000]},
              "axis": {"values": [0.1,0.2,0.3,0.4,0.5,0.6,0.7,0.8,0.9,1,2,3,4,5,6,7,8,9,10,20,30,40,50,60,70,80,90,100,200,300,400,500,600,700,800,900,1000],
                "labelExpr": "datum.value == 1 ? '10⁰' : datum.value == 10 ? '10¹' : datum.value == 100 ? '10²' : datum.value == 1000 ? '10³' : ''",
                "tickSize": {"condition": {"test": "datum.value == 0.1 || datum.value == 1 || datum.value == 10 || datum.value == 100 || datum.value == 1000", "value": 6}, "value": 3},
                "grid": false, "domainColor": "#000", "domainWidth": 2, "tickColor": "#000", "tickWidth": 1.5,
                "labelFont": "Lato", "labelFontSize": 15, "labelColor": "#111", "labelPadding": 2,
                "labelOverlap": false, "labelFlush": false, "labelBound": false,
                "titleFont": "Liberation Sans", "titleFontSize": 21, "titleFontWeight": "bold", "titleColor": "#444", "titlePadding": 9}}
          },
          "layer": [
            {"data": {"name": "p2core"}, "mark": {"type": "circle", "size": 40, "opacity": 1, "color": "#3fae1a"}},
            {"data": {"name": "p2"}, "mark": {"type": "circle", "size": 11, "opacity": 1},
              "encoding": {"color": {"field": "gate", "type": "nominal", "legend": null,
                "scale": {"domain": ["R1", "R2", "R3", "ungated"], "range": ["#46c01e", "#2d2dff", "#e2001a", "#4a4a4a"]}}}},
            {"data": {"values": [
                {"cd63": 4.73, "cd63_end": 4.73, "dao": 0.1, "dao_end": 1000},
                {"cd63": 0.1, "cd63_end": 1000, "dao": 7.76, "dao_end": 7.76}]},
              "mark": {"type": "rule", "color": "#000", "strokeWidth": 1.5},
              "encoding": {"x2": {"field": "cd63_end"}, "y2": {"field": "dao_end"}}},
            {"data": {"values": [
                {"label": "UL", "cd63": 0.133, "dao": 520},
                {"label": "LL", "cd63": 0.133, "dao": 0.1315}]},
              "mark": {"type": "text", "font": "Lato", "fontSize": 24, "align": "left", "baseline": "alphabetic", "color": "#000"},
              "encoding": {"text": {"field": "label"}}},
            {"data": {"values": [
                {"label": "UR", "cd63": 776, "dao": 520},
                {"label": "LR", "cd63": 776, "dao": 0.1315}]},
              "mark": {"type": "text", "font": "Lato", "fontSize": 24, "align": "right", "baseline": "alphabetic", "color": "#000"},
              "encoding": {"text": {"field": "label"}}},
            {"data": {"values": [
                {"label": "histamine content (DAO) vs CD63", "cd63": 1.25, "dao": 6780},
                {"label": "before", "cd63": 1.4, "dao": 1795}]},
              "mark": {"type": "text", "font": "Lato", "fontSize": 39, "align": "left", "baseline": "alphabetic", "color": "#000"},
              "encoding": {"text": {"field": "label"}}}
          ]
        },
        {
          "width": 324,
          "height": 472,
          "encoding": {
            "x": {"field": "cd63", "type": "quantitative", "title": "CD63",
              "scale": {"type": "log", "domain": [0.1, 1000]},
              "axis": {"values": [0.1,0.2,0.3,0.4,0.5,0.6,0.7,0.8,0.9,1,2,3,4,5,6,7,8,9,10,20,30,40,50,60,70,80,90,100,200,300,400,500,600,700,800,900,1000],
                "labelExpr": "datum.value == 1 ? '10⁰' : datum.value == 10 ? '10¹' : datum.value == 100 ? '10²' : datum.value == 1000 ? '10³' : ''",
                "tickSize": {"condition": {"test": "datum.value == 0.1 || datum.value == 1 || datum.value == 10 || datum.value == 100 || datum.value == 1000", "value": 7}, "value": 4},
                "grid": false, "domainColor": "#000", "domainWidth": 2, "tickColor": "#000", "tickWidth": 1.5,
                "labelFont": "Lato", "labelFontSize": 15, "labelColor": "#111", "labelPadding": 16,
                "labelOverlap": false, "labelFlush": false, "labelBound": false,
                "titleFont": "Lato", "titleFontSize": 20, "titleFontWeight": "normal", "titleColor": "#333", "titlePadding": 28}},
            "y": {"field": "dao", "type": "quantitative", "title": "DAO",
              "scale": {"type": "log", "domain": [0.1, 1000]},
              "axis": {"values": [0.1,0.2,0.3,0.4,0.5,0.6,0.7,0.8,0.9,1,2,3,4,5,6,7,8,9,10,20,30,40,50,60,70,80,90,100,200,300,400,500,600,700,800,900,1000],
                "labelExpr": "datum.value == 1 ? '10⁰' : datum.value == 10 ? '10¹' : datum.value == 100 ? '10²' : datum.value == 1000 ? '10³' : ''",
                "tickSize": {"condition": {"test": "datum.value == 0.1 || datum.value == 1 || datum.value == 10 || datum.value == 100 || datum.value == 1000", "value": 6}, "value": 3},
                "grid": false, "domainColor": "#000", "domainWidth": 2, "tickColor": "#000", "tickWidth": 1.5,
                "labelFont": "Lato", "labelFontSize": 15, "labelColor": "#111", "labelPadding": 2,
                "labelOverlap": false, "labelFlush": false, "labelBound": false,
                "titleFont": "Liberation Sans", "titleFontSize": 21, "titleFontWeight": "bold", "titleColor": "#444", "titlePadding": 9}}
          },
          "layer": [
            {"data": {"values": [{"cd63": 12910, "cd63_end": 15800000, "dao": 227, "dao_end": 0.79}]},
              "mark": {"type": "rect", "color": "#d9d9d9"},
              "encoding": {"x2": {"field": "cd63_end"}, "y2": {"field": "dao_end"}}},
            {"data": {"name": "p3"}, "mark": {"type": "circle", "size": 11, "opacity": 1},
              "encoding": {"color": {"field": "gate", "type": "nominal", "legend": null,
                "scale": {"domain": ["R1", "R2", "R3", "ungated"], "range": ["#46c01e", "#2d2dff", "#e2001a", "#4a4a4a"]}}}},
            {"data": {"values": [
                {"cd63": 4.82, "cd63_end": 4.82, "dao": 0.1, "dao_end": 1000},
                {"cd63": 0.1, "cd63_end": 1000, "dao": 6.38, "dao_end": 6.38}]},
              "mark": {"type": "rule", "color": "#000", "strokeWidth": 1.5},
              "encoding": {"x2": {"field": "cd63_end"}, "y2": {"field": "dao_end"}}},
            {"data": {"values": [
                {"label": "UL", "cd63": 0.149, "dao": 520},
                {"label": "LL", "cd63": 0.149, "dao": 0.1315}]},
              "mark": {"type": "text", "font": "Lato", "fontSize": 24, "align": "left", "baseline": "alphabetic", "color": "#000"},
              "encoding": {"text": {"field": "label"}}},
            {"data": {"values": [
                {"label": "UR", "cd63": 795, "dao": 520},
                {"label": "LR", "cd63": 795, "dao": 0.1315}]},
              "mark": {"type": "text", "font": "Lato", "fontSize": 24, "align": "right", "baseline": "alphabetic", "color": "#000"},
              "encoding": {"text": {"field": "label"}}},
            {"data": {"values": [{"label": "after", "cd63": 109, "dao": 1795}]},
              "mark": {"type": "text", "font": "Lato", "fontSize": 39, "align": "right", "baseline": "alphabetic", "color": "#000"},
              "encoding": {"text": {"field": "label"}}},
            {"data": {"values": [{"cd63": 71, "dao": 1.98}]},
              "mark": {"type": "point", "shape": "M 0 -1 C 0.4164 -1 0.754 -0.5523 0.754 0 C 0.754 0.5523 0.4164 1 0 1 C -0.4164 1 -0.754 0.5523 -0.754 0 C -0.754 -0.5523 -0.4164 -1 0 -1 Z",
                "size": 59536, "filled": false, "color": "#3a3a3a", "strokeWidth": 5, "opacity": 1}},
            {"data": {"values": [{"cd63": 13270, "cd63_end": 1977, "dao": 13.4, "dao_end": 4.58}]},
              "mark": {"type": "rule", "color": "#3a3a3a", "strokeWidth": 5},
              "encoding": {"x2": {"field": "cd63_end"}, "y2": {"field": "dao_end"}}},
            {"data": {"values": [{"cd63": 1977, "dao": 4.58}]},
              "mark": {"type": "point", "shape": "triangle-up", "angle": 231, "size": 400, "filled": true, "color": "#3a3a3a", "opacity": 1}},
            {"data": {"values": [{"label": "activated\nbasophil\npositive for\nCD63\ndegranulatio\nn marker", "cd63": 23440, "dao": 96.2}]},
              "mark": {"type": "text", "font": "Open Sans", "fontSize": 32, "lineHeight": 45, "lineBreak": "\n", "align": "left", "baseline": "alphabetic", "color": "#c00000"},
              "encoding": {"text": {"field": "label"}}}
          ]
        }
      ]
    }
  ]
}
